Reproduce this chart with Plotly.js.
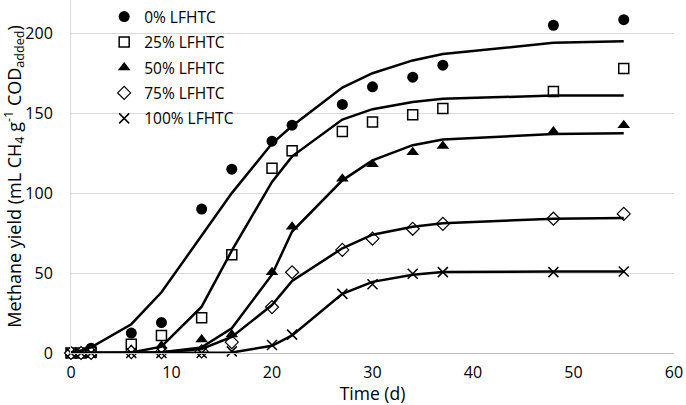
<!DOCTYPE html>
<html>
<head>
<meta charset="utf-8">
<script src="https://cdn.plot.ly/plotly-3.0.1.min.js"></script>
<style>
  html, body { margin: 0; padding: 0; background: #fff; }
  #plot { width: 686px; height: 405px; }
</style>
</head>
<body>
<div id="plot"></div>
<script>
// Tiempo de muestreo (d)
const days = [0, 1, 2, 6, 9, 13, 16, 20, 22, 27, 30, 34, 37, 48, 55];

// Datos medidos (mL CH4 / g COD added)
const meas0   = [0, 0, 3, 12.5, 19, 90, 115, 132.5, 142.5, 155.5, 166.5, 172.5, 180, 205, 208.5];
const meas25  = [0, 0, 0.5, 5.5, 11, 22, 61.5, 115.5, 126.5, 138.5, 144.5, 149, 153, 163.5, 178];
const meas50  = [0, 0, 0, 2, 4.5, 8.5, 11.5, 50.5, 79, 109, 118, 125.5, 129.5, 138.5, 142.5];
const meas75  = [0, 0, 0, 0.5, 0.5, 1, 6.8, 28.7, 50.5, 64.5, 71.5, 77.7, 80.8, 84, 87];
const meas100 = [0, 0, 0, 0, 0, 0, 1, 5, 11.5, 37, 43, 49.6, 50.6, 50.6, 51];

// Curvas ajustadas
const fit0   = [0.5, 1.5, 3.5, 18, 38, 73, 100, 131, 142, 166, 175, 183, 187, 194, 195];
const fit25  = [0, 0, 0, 0.3, 4, 29, 64, 107, 123, 146, 152.5, 157, 159, 161, 161];
const fit50  = [0, 0, 0, 0, 0.5, 3.5, 15.5, 49, 76, 108, 120.5, 130, 133.5, 137, 137.5];
const fit75  = [0, 0, 0, 0, 0.3, 2.5, 10, 30, 45, 65.5, 74, 79, 81.2, 84, 84.5];
const fit100 = [0, 0, 0, 0, 0, 0, 0.3, 4.5, 11, 37, 44.5, 49, 50.6, 51, 51];

const names = ['0% LFHTC', '25% LFHTC', '50% LFHTC', '75% LFHTC', '100% LFHTC'];
const measured = [meas0, meas25, meas50, meas75, meas100];
const fitted = [fit0, fit25, fit50, fit75, fit100];

// estilos de marcador por serie
const markerStyles = [
  { symbol: 'circle', size: 11, color: '#000', line: { width: 0 } },
  { symbol: 'square', size: 10, color: '#fff', line: { width: 1.5, color: '#000' } },
  { symbol: 'triangle-up', size: 11, color: '#000', line: { width: 0 } },
  { symbol: 'diamond', size: 10, color: '#fff', line: { width: 1.2, color: '#000' } },
  { symbol: 'x-thin', size: 10, color: '#000', line: { width: 1.5, color: '#000' } }
];

const traces = [];
measured.forEach((vals, i) => {
  traces.push({
    type: 'scatter',
    mode: 'markers',
    x: days,
    y: vals,
    name: names[i],
    legendgroup: 'g' + i,
    marker: markerStyles[i],
    cliponaxis: false
  });
});
fitted.forEach((vals, i) => {
  traces.push({
    type: 'scatter',
    mode: 'lines',
    x: days,
    y: vals,
    showlegend: false,
    line: { color: '#000', width: 2.5 },
    hoverinfo: 'skip'
  });
});

const layout = {
  width: 686,
  height: 405,
  margin: { l: 71, r: 12, t: 0, b: 52 },
  paper_bgcolor: '#fff',
  plot_bgcolor: '#fff',
  font: { family: 'Open Sans, sans-serif', color: '#000', size: 16 },
  showlegend: true,
  legend: {
    x: 0.055, y: 1, xanchor: 'left', yanchor: 'top',
    bgcolor: 'rgba(0,0,0,0)',
    font: { size: 15.5, color: '#000' },
    traceorder: 'grouped',
    tracegroupgap: 2.3
  },
  xaxis: {
    range: [0, 60],
    dtick: 10,
    automargin: false,
    showgrid: false,
    zeroline: false,
    showline: true,
    linecolor: '#bfbfbf',
    linewidth: 1,
    ticks: 'outside', ticklen: 5, tickcolor: 'rgba(0,0,0,0)',
    tickfont: { size: 16 },
    title: { text: 'Time (d)', font: { size: 17.5 }, standoff: 7 }
  },
  yaxis: {
    range: [0, 220.8],
    dtick: 50,
    automargin: false,
    showgrid: true,
    gridcolor: '#d9d9d9',
    gridwidth: 1,
    zeroline: false,
    showline: true,
    linecolor: '#d9d9d9',
    linewidth: 1,
    ticks: 'outside', ticklen: 14, tickcolor: 'rgba(0,0,0,0)',
    tickfont: { size: 16 },
    title: {
      text: 'Methane yield (mL CH<sub>4</sub> g<sup>-1</sup> COD<sub>added</sub>)',
      font: { size: 18 },
      standoff: 4
    }
  }
};

Plotly.newPlot('plot', traces, layout, { staticPlot: true, displayModeBar: false });
</script>
</body>
</html>
